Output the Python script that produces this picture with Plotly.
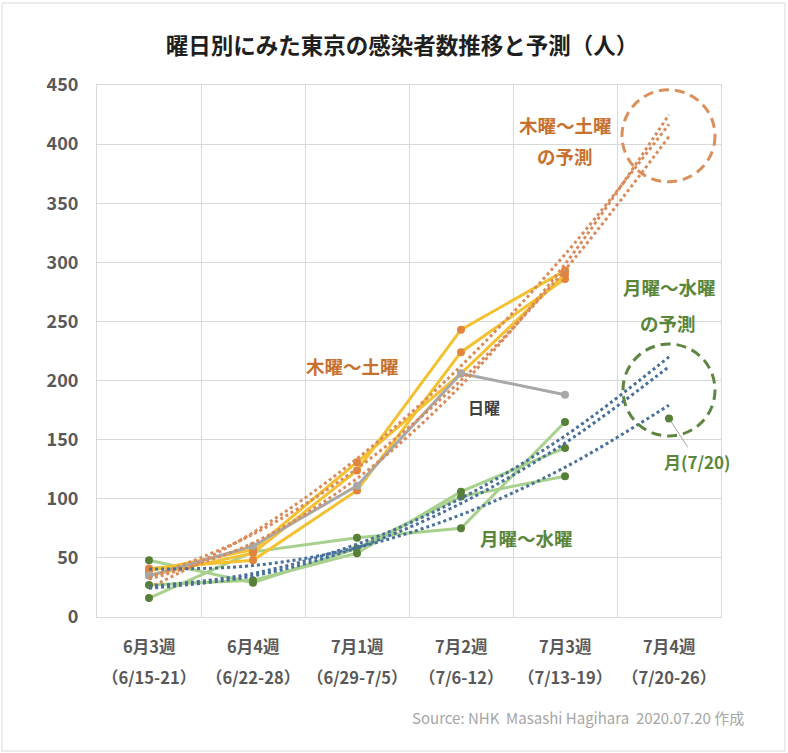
import numpy as np
import plotly.graph_objects as go

# ---- data ----
weeks = ["6月3週", "6月4週", "7月1週", "7月2週", "7月3週", "7月4週"]
week_ranges = ["（6/15-21）", "（6/22-28）", "（6/29-7/5）", "（7/6-12）", "（7/13-19）", "（7/20-26）"]

thu = [41, 48, 107, 224, 286]
fri = [35, 54, 124, 243, 293]
sat = [39, 57, 131, 206, 290]
sun = [35, 60, 111, 206, 188]
mon = [48, 29, 58, 102, 119]
tue = [27, 31, 54, 106, 143]
wed = [16, 55, 67, 75, 165]
mon_0720 = [168]   # 7/20 (Mon), week 7月4週

FONT = "Noto Sans CJK JP, Noto Sans, sans-serif"
GOLD = "#F4C132"
ORANGE_MK = "#E0843E"
GRAY = "#A8A8A8"
GREEN_LN = "#A9D18E"
GREEN_MK = "#567F38"
ORANGE_TR = "#D98B5B"
BLUE_TR = "#47709B"
ORANGE_TXT = "#C8702D"
GREEN_TXT = "#5A863A"

x_obs = list(range(len(thu)))
x_all = list(range(len(weeks)))

fig = go.Figure()

# observed series: Mon-Wed
for ys in (mon, tue, wed):
    fig.add_trace(go.Scatter(x=x_obs, y=ys, mode="lines+markers",
                             line=dict(color=GREEN_LN, width=3),
                             marker=dict(color=GREEN_MK, size=8),
                             showlegend=False, hoverinfo="skip"))
# Thu-Sat
for ys in (thu, fri, sat):
    fig.add_trace(go.Scatter(x=x_obs, y=ys, mode="lines+markers",
                             line=dict(color=GOLD, width=3),
                             marker=dict(color=ORANGE_MK, size=8),
                             showlegend=False, hoverinfo="skip"))
# Sunday
fig.add_trace(go.Scatter(x=x_obs, y=sun, mode="lines+markers",
                         line=dict(color=GRAY, width=3),
                         marker=dict(color=GRAY, size=8),
                         showlegend=False, hoverinfo="skip"))
# Monday 7/20
fig.add_trace(go.Scatter(x=[x_all[5]], y=mon_0720, mode="markers",
                         marker=dict(color=GREEN_MK, size=8),
                         showlegend=False, hoverinfo="skip"))

# polynomial (order 2) trend lines with one-period forecast
for ys, col in [(thu, ORANGE_TR), (fri, ORANGE_TR), (sat, ORANGE_TR),
                (mon, BLUE_TR), (tue, BLUE_TR), (wed, BLUE_TR)]:
    coef = np.polyfit(x_obs, ys, 2)
    fig.add_trace(go.Scatter(x=x_all, y=np.polyval(coef, x_all), mode="lines",
                             line=dict(color=col, width=3, dash="dot", shape="spline"),
                             showlegend=False, hoverinfo="skip"))

L, R, T, B = 97, 67, 85, 136
W, H = 788, 753
PW, PH = W - L - R, H - T - B

def px(xp):
    return (xp - L) / PW

def py(yp):
    return (H - B - yp) / PH

annotations = []
for i, (w, r) in enumerate(zip(weeks, week_ranges)):
    annotations.append(dict(x=i, xref="x", y=py(646), yref="paper", text=w, showarrow=False,
                            font=dict(family=FONT, size=16.5, color="#595959", weight="bold"),
                            yanchor="middle"))
    annotations.append(dict(x=i, xref="x", y=py(677), yref="paper", text=r, showarrow=False,
                            font=dict(family=FONT, size=16.5, color="#595959", weight="bold"),
                            yanchor="middle"))

def txt(x, y, s, color, size=18.5):
    annotations.append(dict(x=px(x), xref="paper", y=py(y), yref="paper", text=s,
                            showarrow=False, xanchor="center", yanchor="middle",
                            font=dict(family=FONT, size=size, color=color, weight="bold")))

txt(352, 366, "木曜～土曜", ORANGE_TXT)
txt(565, 125, "木曜～土曜", ORANGE_TXT)
txt(565, 156, "の予測", ORANGE_TXT)
txt(669, 287, "月曜～水曜", GREEN_TXT)
txt(668, 323, "の予測", GREEN_TXT)
txt(526, 538, "月曜～水曜", GREEN_TXT)
txt(484, 407, "日曜", "#404040", 16)

annotations.append(dict(x=5, xref="x", y=mon_0720[0], yref="y", text="月(7/20)",
                        showarrow=True, arrowhead=0, arrowwidth=1, arrowcolor="#A6A6A6",
                        ax=28, ay=43, standoff=3,
                        font=dict(family=FONT, size=17, color=GREEN_TXT, weight="bold")))

annotations.append(dict(x=px(746), xref="paper", y=py(717), yref="paper",
                        text="Source: NHK  Masashi Hagihara  2020.07.20 作成",
                        showarrow=False, xanchor="right", yanchor="middle",
                        font=dict(family=FONT, size=15, color="#A6A6A6")))

shapes = [
    dict(type="circle", xref="x", yref="y", xsizemode="pixel", ysizemode="pixel",
         xanchor=5, yanchor=407, x0=-47, x1=46, y0=-46, y1=46,
         line=dict(color="#DB905C", width=3, dash="10px,6px")),
    dict(type="circle", xref="x", yref="y", xsizemode="pixel", ysizemode="pixel",
         xanchor=5, yanchor=192, x0=-46, x1=46, y0=-46, y1=46,
         line=dict(color="#5E8640", width=3, dash="10px,6px")),
    dict(type="rect", xref="paper", yref="paper", x0=px(2), x1=px(785), y0=py(751), y1=py(3),
         line=dict(color="#D9D9D9", width=1)),
]

fig.update_layout(
    width=W, height=H,
    margin=dict(l=L, r=R, t=T, b=B),
    paper_bgcolor="white", plot_bgcolor="white",
    title=dict(text="曜日別にみた東京の感染者数推移と予測（人）", x=402 / W, xref="container",
               xanchor="center", y=1 - 46 / H, yref="container", yanchor="middle",
               font=dict(family=FONT, size=22.5, color="#1F1F1F", weight="bold")),
    xaxis=dict(range=[-0.5, 5.5], tick0=-0.5, dtick=1, showticklabels=False,
               showgrid=True, gridcolor="#D9D9D9", gridwidth=1, zeroline=False,
               showline=True, linecolor="#D9D9D9", linewidth=1, mirror=True, ticks=""),
    yaxis=dict(range=[0, 450], dtick=50, showgrid=True, gridcolor="#D9D9D9", gridwidth=1,
               zeroline=False, showline=True, linecolor="#D9D9D9", linewidth=1, mirror=True,
               ticks="", ticklabelstandoff=14,
               tickfont=dict(family=FONT, size=18, color="#595959", weight="bold")),
    annotations=annotations,
    shapes=shapes,
    showlegend=False,
)

fig.write_html("out.html")
